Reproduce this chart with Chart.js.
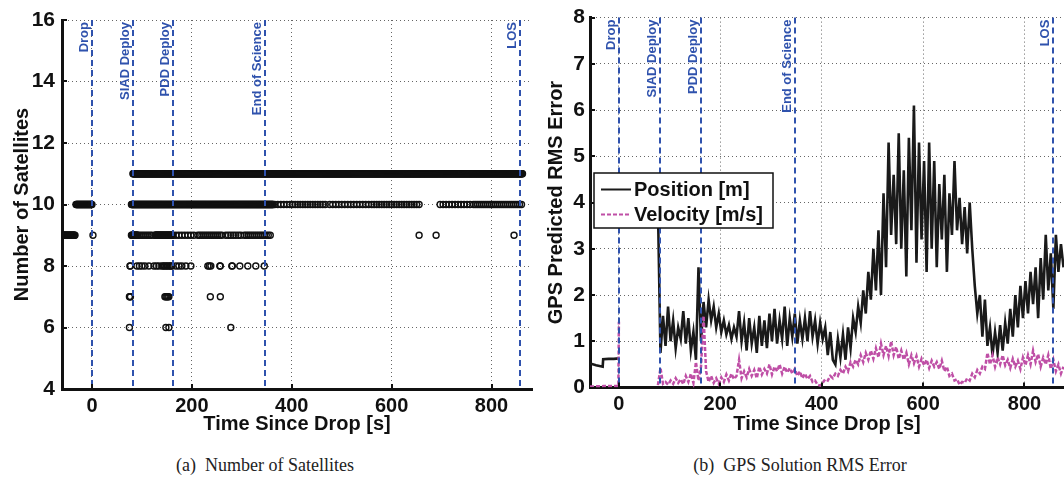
<!DOCTYPE html>
<html>
<head>
<meta charset="utf-8">
<script src="https://cdn.jsdelivr.net/npm/chart.js@4.4.0/dist/chart.umd.min.js"></script>
<style>
  body { margin: 0; background: #fff; width: 1064px; height: 477px; position: relative; overflow: hidden; }
  canvas { position: absolute; top: 0; }
  #satChart { left: 0; }
  #errChart { left: 530px; }
  .caption { position: absolute; top: 455px; line-height: 20px; font-family: "Liberation Serif", "Times New Roman", serif;
             font-size: 18px; color: #222; transform: translateX(-50%); white-space: nowrap; }
</style>
</head>
<body>
<canvas id="satChart" width="540" height="440"></canvas>
<canvas id="errChart" width="534" height="440"></canvas>
<div class="caption" style="left:265px">(a)&nbsp;&nbsp;Number of Satellites</div>
<div class="caption" style="left:800px">(b)&nbsp;&nbsp;GPS Solution RMS Error</div>
<script>
// flight events (s since drop)
const eventNames = ['Drop', 'SIAD Deploy', 'PDD Deploy', 'End of Science', 'LOS'];
const eventTimes = [0, 82, 162, 347, 857];
const xTickVals = [0, 200, 400, 600, 800];

// number of satellites: runs of samples [start, end, step] in seconds
const sat11Runs = [[82, 862, 1]];
const sat10Runs = [[-32, 0, 1], [79, 363, 1], [366, 398, 6], [402, 470, 5], [476, 560, 6], [565, 655, 5], [697, 760, 6], [764, 862, 4]];
const sat9Runs = [[-58, -34, 1], [2, 2, 1], [79, 92, 1], [96, 120, 4], [126, 162, 1], [168, 204, 6], [212, 262, 4],
                  [268, 300, 5], [305, 357, 4], [655, 655, 1], [689, 689, 1], [845, 845, 1]];
const sat8Times = [76, 77, 90, 95, 100, 106, 114, 124, 129, 134, 140, 143, 146, 149, 152, 155, 158, 160, 168, 174, 180, 188, 198,
                   232, 235, 238, 256, 257, 280, 281, 296, 312, 328, 345];
const sat7Times = [75, 76, 77, 146, 148, 150, 152, 154, 237, 257];
const sat6Times = [75, 148, 154, 278];

// RMS error, before drop
const posPreTime = [-57, -45, -36, -32, -31, -20, -10, 0];
const posPre = [0.52, 0.48, 0.46, 0.45, 0.61, 0.62, 0.62, 0.63];
const velPreTime = [-57, -30, -1, 0];
const velPre = [0.02, 0.03, 0.03, 1.42];

// RMS error after SIAD, one reading every 5 s from t = 77
const postStart = 77;
const postStep = 5;
const posVals = [
  3.9, 0.75, 1.55, 0.9, 1.75, 1.0, 1.45, 0.85, 1.3, 1.05,
  1.65, 0.95, 1.5, 0.8, 1.2, 0.6, 2.6, 1.0, 1.85, 1.3,
  1.9, 1.45, 1.75, 1.3, 1.6, 1.2, 1.45, 1.15, 1.35, 1.05,
  1.3, 1.1, 1.65, 1.0, 1.4, 0.8, 1.5, 0.95, 1.3, 0.75,
  1.55, 0.9, 1.45, 0.85, 1.6, 1.0, 1.7, 0.95, 1.45, 1.05,
  1.75, 0.9, 1.5, 1.1, 1.6, 0.95, 1.45, 1.05, 1.5, 1.0,
  1.65, 1.1, 1.45, 0.95, 1.4, 1.05, 1.3, 0.7, 1.2, 0.6,
  0.5, 1.05, 0.65, 1.15, 0.6, 1.3, 0.85, 1.5, 1.2, 1.75,
  1.4, 2.1, 1.6, 2.5, 1.9, 3.0, 2.1, 3.4, 2.0, 4.2,
  2.6, 5.3, 3.3, 4.6, 3.1, 5.5, 3.0, 4.7, 2.4, 5.4,
  3.4, 6.1, 2.7, 5.3, 3.2, 4.9, 2.5, 5.3, 3.0, 4.9,
  2.6, 4.4, 3.2, 4.6, 2.5, 4.2, 3.3, 4.9, 3.4, 4.1,
  3.1, 3.9, 2.9, 4.0, 3.0, 2.2, 1.6, 2.0, 1.1, 1.9,
  0.9, 1.3, 0.7, 1.2, 0.75, 1.35, 0.8, 1.4, 0.95, 1.7,
  1.1, 2.0, 1.3, 2.2, 1.5, 2.3, 1.6, 2.5, 1.8, 2.6,
  1.5, 2.8, 1.9, 3.3, 2.1, 2.9, 1.7, 3.3, 2.5, 3.1,
  2.6
];
const velVals = [
  0.05, 0.42, 0.08, 0.12, 0.06, 0.15, 0.08, 0.2, 0.1, 0.18,
  0.07, 0.25, 0.12, 0.3, 0.1, 0.55, 0.15, 0.45, 1.55, 0.35,
  0.12, 0.25, 0.1, 0.2, 0.08, 0.22, 0.12, 0.28, 0.15, 0.3,
  0.18, 0.25, 0.6, 0.2, 0.35, 0.22, 0.4, 0.25, 0.38, 0.2,
  0.45, 0.28, 0.4, 0.3, 0.5, 0.28, 0.45, 0.35, 0.5, 0.3,
  0.45, 0.32, 0.42, 0.3, 0.4, 0.25, 0.35, 0.2, 0.3, 0.18,
  0.25, 0.12, 0.15, 0.06, 0.04, 0.1, 0.18, 0.15, 0.25, 0.2,
  0.3, 0.25, 0.38, 0.3, 0.45, 0.35, 0.55, 0.45, 0.6, 0.5,
  0.7, 0.55, 0.75, 0.6, 0.8, 0.62, 0.85, 0.65, 0.95, 0.7,
  0.9, 0.68, 1.0, 0.7, 0.88, 0.62, 0.8, 0.6, 0.75, 0.5,
  0.7, 0.52, 0.68, 0.45, 0.62, 0.48, 0.6, 0.42, 0.58, 0.45,
  0.55, 0.4, 0.58, 0.35, 0.45, 0.25, 0.3, 0.15, 0.18, 0.06,
  0.12, 0.1, 0.2, 0.15, 0.3, 0.22, 0.38, 0.3, 0.45, 0.4,
  0.75, 0.5, 0.7, 0.45, 0.65, 0.5, 0.7, 0.48, 0.6, 0.42,
  0.62, 0.45, 0.58, 0.4, 0.65, 0.48, 0.7, 0.5, 0.8, 0.55,
  0.72, 0.45, 0.65, 0.5, 0.7, 0.4, 0.6, 0.35, 0.5, 0.3,
  0.45
];

const blue = '#2f52ad';
const tickFont = { family: 'Liberation Sans, Arial, sans-serif', size: 21, weight: 'bold' };
const titleFont = { family: 'Liberation Sans, Arial, sans-serif', size: 20, weight: 'bold' };

function runsToPoints(runs, n) {
  const pts = [];
  runs.forEach(r => {
    for (let t = r[0]; t <= r[1]; t += r[2]) pts.push({ x: t, y: n });
  });
  return pts;
}
function timesToPoints(times, n) {
  return times.map(t => ({ x: t, y: n }));
}
function errorPoints(preT, pre, vals) {
  const pts = preT.map((t, i) => ({ x: t, y: pre[i] }));
  pts.push({ x: 40, y: null });
  vals.forEach((v, i) => pts.push({ x: postStart + i * postStep, y: v }));
  return pts;
}

// dashed event lines, their labels and inward tick marks
const eventLines = {
  id: 'eventLines',
  afterDatasetsDraw(chart) {
    const { ctx, chartArea: a, scales: { x, y } } = chart;
    ctx.save();
    ctx.strokeStyle = blue;
    ctx.lineWidth = 2;
    ctx.setLineDash([6, 4]);
    eventTimes.forEach(t => {
      const px = Math.round(x.getPixelForValue(t));
      ctx.beginPath();
      ctx.moveTo(px, a.top);
      ctx.lineTo(px, a.bottom);
      ctx.stroke();
    });
    ctx.setLineDash([]);
    ctx.fillStyle = blue;
    ctx.font = 'bold 13px "Liberation Sans", Arial, sans-serif';
    ctx.textAlign = 'right';
    ctx.textBaseline = 'alphabetic';
    eventTimes.forEach((t, i) => {
      const px = x.getPixelForValue(t);
      ctx.save();
      ctx.translate(px - 4, a.top + 2);
      ctx.rotate(-Math.PI / 2);
      ctx.fillText(eventNames[i], 0, 0);
      ctx.restore();
    });
    // small inward ticks
    ctx.strokeStyle = '#111';
    ctx.lineWidth = 2;
    x.ticks.forEach(tk => {
      const px = Math.round(x.getPixelForValue(tk.value));
      ctx.beginPath();
      ctx.moveTo(px, a.bottom);
      ctx.lineTo(px, a.bottom - 5);
      ctx.stroke();
    });
    y.ticks.forEach(tk => {
      const py = Math.round(y.getPixelForValue(tk.value));
      ctx.beginPath();
      ctx.moveTo(a.left, py);
      ctx.lineTo(a.left + 5, py);
      ctx.stroke();
    });
    ctx.restore();
  }
};

// legend box drawn inside the plot
const boxLegend = {
  id: 'boxLegend',
  afterDraw(chart) {
    const { ctx } = chart;
    const left = 64, top = 173, w = 179, h = 55;
    ctx.save();
    ctx.fillStyle = '#fff';
    ctx.fillRect(left, top, w, h);
    ctx.strokeStyle = '#111';
    ctx.lineWidth = 1.5;
    ctx.strokeRect(left, top, w, h);
    ctx.font = 'bold 20px "Liberation Sans", Arial, sans-serif';
    ctx.textBaseline = 'middle';
    ctx.textAlign = 'left';
    chart.data.datasets.forEach((ds, i) => {
      const yy = top + 16.5 + i * 25;
      ctx.strokeStyle = ds.borderColor;
      ctx.lineWidth = 2;
      ctx.setLineDash(ds.borderDash || []);
      ctx.beginPath();
      ctx.moveTo(left + 7, yy);
      ctx.lineTo(left + 37, yy);
      ctx.stroke();
      ctx.setLineDash([]);
      ctx.fillStyle = '#111';
      ctx.fillText(ds.label, left + 40, yy + 1);
    });
    ctx.restore();
  }
};

function xAxis(min, max, h) {
  return {
    type: 'linear', min: min, max: max,
    afterBuildTicks: s => { s.ticks = xTickVals.map(v => ({ value: v })); },
    afterFit: s => { s.height = h; },
    grid: { color: '#666', lineWidth: 1, drawTicks: false },
    border: { display: true, color: '#111', width: 3, dash: [1, 3] },
    ticks: { color: '#111', font: { ...tickFont, size: 20 }, padding: 5, maxRotation: 0 },
    title: { display: true, text: 'Time Since Drop [s]', color: '#111', font: titleFont, padding: { top: 0, bottom: 4 } }
  };
}
function yAxis(min, max, step, w, title, pad, titlePad) {
  return {
    min: min, max: max,
    afterFit: s => { s.width = w; },
    grid: { color: '#666', lineWidth: 1, drawTicks: false },
    border: { display: true, color: '#111', width: 3, dash: [1, 3] },
    ticks: { stepSize: step, color: '#111', font: tickFont, padding: pad },
    title: { display: true, text: title, color: '#111', font: titleFont, padding: { top: titlePad, bottom: 0 } }
  };
}

const satPoints = [].concat(
  runsToPoints(sat11Runs, 11), runsToPoints(sat10Runs, 10), runsToPoints(sat9Runs, 9),
  timesToPoints(sat8Times, 8), timesToPoints(sat7Times, 7), timesToPoints(sat6Times, 6)
);

new Chart(document.getElementById('satChart'), {
  type: 'scatter',
  data: {
    datasets: [{
      label: 'Number of Satellites',
      data: satPoints,
      pointStyle: 'circle',
      pointRadius: 3,
      pointBorderWidth: 1.4,
      borderColor: '#111',
      backgroundColor: 'rgba(0,0,0,0)'
    }]
  },
  options: {
    responsive: false,
    animation: false,
    layout: { padding: { left: 0, right: 8, top: 20, bottom: 0 } },
    plugins: { legend: { display: false }, tooltip: { enabled: false } },
    scales: {
      x: xAxis(-60, 881, 51),
      y: yAxis(4, 16, 2, 62, 'Number of Satellites', 7, 10)
    }
  },
  plugins: [eventLines]
});

new Chart(document.getElementById('errChart'), {
  type: 'scatter',
  data: {
    datasets: [{
      label: 'Position [m]',
      data: errorPoints(posPreTime, posPre, posVals),
      showLine: true,
      spanGaps: false,
      pointRadius: 0,
      borderColor: '#1a1a1a',
      borderWidth: 2.6,
      order: 1
    }, {
      label: 'Velocity [m/s]',
      data: errorPoints(velPreTime, velPre, velVals),
      showLine: true,
      spanGaps: false,
      pointRadius: 0,
      borderColor: '#bf4fa6',
      borderWidth: 2.5,
      borderDash: [4, 2],
      order: 0
    }]
  },
  options: {
    responsive: false,
    animation: false,
    layout: { padding: { left: 0, right: 0, top: 13, bottom: 0 } },
    plugins: { legend: { display: false }, tooltip: { enabled: false } },
    scales: {
      x: xAxis(-57, 878, 52.5),
      y: yAxis(0, 8, 1, 60, 'GPS Predicted RMS Error', 5, 14)
    }
  },
  plugins: [eventLines, boxLegend]
});
</script>
</body>
</html>
